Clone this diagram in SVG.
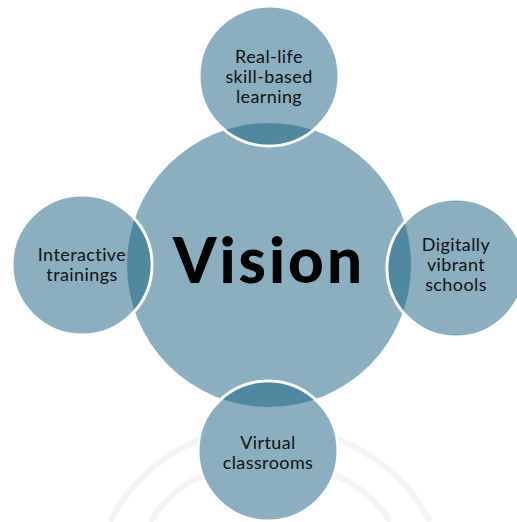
<svg xmlns="http://www.w3.org/2000/svg" width="517" height="522" viewBox="0 0 517 522">
  <style>
    .sat { fill: #8aafc0; stroke: #ffffff; stroke-width: 3; }
    .main { fill: #8aafc0; }
    .lens { fill: #4f88a1; }
    .lbl { font-family: "Lato", "Open Sans", "DejaVu Sans", sans-serif; font-size: 18px; letter-spacing: 0.4px; fill: #111111; text-anchor: middle; }
    .big { font-family: "Lato", "DejaVu Sans", sans-serif; font-size: 62px; font-weight: 900; fill: #000000; text-anchor: middle; letter-spacing: 3px; }
    .wm { fill: none; stroke: #f4f4f4; stroke-width: 6; }
  </style>
  <defs>
    <clipPath id="mainClip"><circle cx="269" cy="265" r="142"/></clipPath>
  </defs>
  <rect width="517" height="522" fill="#ffffff"/>
  <g id="watermark">
    <path class="wm" d="M110 522 Q150 440 268 420 Q390 440 430 522"/>
    <path class="wm" d="M150 522 Q180 470 268 455 Q360 470 390 522" stroke-width="4"/>
  </g>
  <g id="vision">
    <circle class="main" cx="269" cy="265" r="142"/>
    <text class="big" x="269" y="283">Vision</text>
  </g>
  <g id="top">
    <circle class="sat" cx="269" cy="76" r="70"/>
    <circle class="lens" cx="269" cy="76" r="68.5" clip-path="url(#mainClip)"/>
    <text class="lbl" x="269" y="63">Real-life</text>
    <text class="lbl" x="269" y="83">skill-based</text>
    <text class="lbl" x="269" y="103">learning</text>
  </g>
  <g id="left">
    <circle class="sat" cx="82" cy="265" r="70"/>
    <circle class="lens" cx="82" cy="265" r="68.5" clip-path="url(#mainClip)"/>
    <text class="lbl" x="82" y="261">Interactive</text>
    <text class="lbl" x="82" y="281">trainings</text>
  </g>
  <g id="right">
    <circle class="sat" cx="456" cy="268" r="69"/>
    <circle class="lens" cx="456" cy="268" r="67.5" clip-path="url(#mainClip)"/>
    <text class="lbl" x="456" y="251">Digitally</text>
    <text class="lbl" x="456" y="271">vibrant</text>
    <text class="lbl" x="456" y="291">schools</text>
  </g>
  <g id="bottom">
    <circle class="sat" cx="268" cy="451" r="70"/>
    <circle class="lens" cx="268" cy="451" r="68.5" clip-path="url(#mainClip)"/>
    <text class="lbl" x="268" y="449">Virtual</text>
    <text class="lbl" x="268" y="469">classrooms</text>
  </g>
  <g id="connectors"></g>
</svg>
